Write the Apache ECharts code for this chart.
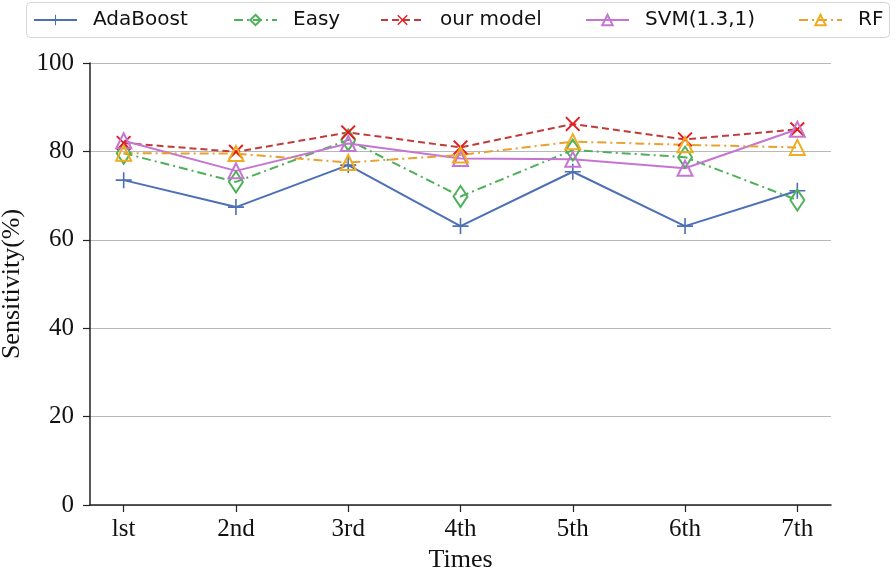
<!DOCTYPE html>
<html><head><meta charset="utf-8">
<script src="https://cdn.jsdelivr.net/npm/echarts@6/dist/echarts.min.js"></script>
<style>html,body{margin:0;padding:0;background:#fff}#c{width:896px;height:571px}</style>
</head><body><div id="c"></div>
<script>
const categories = ['lst', '2nd', '3rd', '4th', '5th', '6th', '7th'];
const yTicks = [0, 20, 40, 60, 80, 100];
const adaBoost = [73.5, 67.4, 76.9, 63.1, 75.4, 63.1, 71.1];
const easy = [79.6, 73.1, 82.6, 69.8, 80.3, 78.7, 69.0];
const ourModel = [81.9, 79.9, 84.3, 80.9, 86.2, 82.7, 85.0];
const svm = [82.4, 75.6, 81.8, 78.4, 78.2, 76.2, 85.0];
const rf = [79.6, 79.5, 77.5, 79.2, 82.2, 81.5, 80.9];

const PLUS = 'path://M-0.1,-1H0.1V-0.1H1V0.1H0.1V1H-0.1V0.1H-1V-0.1H-0.1Z';
const CROSS = 'path://M-1,-0.82L-0.82,-1L0,-0.18L0.82,-1L1,-0.82L0.18,0L1,0.82L0.82,1L0,0.18L-0.82,1L-1,0.82L-0.18,0Z';

function pts(arr){ return arr.map((v,i)=>[i,v]); }

const seriesDefs = [
  {name:'AdaBoost', data:adaBoost, color:'#4c6fb5', type:'solid', symbol:PLUS, size:16, filled:true, mcolor:'#4c6fb5'},
  {name:'Easy', data:easy, color:'#4fb05a', type:[9,4,2,4], symbol:'diamond', size:[14,21], filled:false, mcolor:'#4fb05a'},
  {name:'our model', data:ourModel, color:'#c23b3b', type:[7,4], symbol:CROSS, size:15, filled:true, mcolor:'#e8191c'},
  {name:'SVM(1.3,1)', data:svm, color:'#c575d2', type:'solid', symbol:'triangle', size:15, filled:false, mcolor:'#c575d2'},
  {name:'RF', data:rf, color:'#e8a12e', type:[9,4,2,4], symbol:'triangle', size:15, filled:false, mcolor:'#f0ab1e'}
];

const series = seriesDefs.map(d => ({
  name: d.name, type: 'line', data: pts(d.data),
  symbol: d.symbol, symbolSize: d.size, showAllSymbol: true,
  lineStyle: {color: d.color, width: 2, type: d.type},
  itemStyle: d.filled ? {color: d.mcolor, borderWidth: 0} : {color: 'rgba(255,255,255,0)', borderColor: d.mcolor, borderWidth: 2},
  color: d.color,
  emphasis: {disabled: true},
  animation: false
}));

const legendLeft = [33, 233, 380, 585, 798];
const legends = seriesDefs.map((d,i) => ({
  data: [d.name], left: legendLeft[i], top: 10, padding: 0, itemWidth: 43, itemHeight: 13,
  textStyle: {fontFamily: 'DejaVu Sans', fontSize: 20, color: '#111', padding: [0,0,0,11]},
  selectedMode: false
}));

const chart = echarts.init(document.getElementById('c'), null, {renderer: 'canvas'});
chart.setOption({
  animation: false,
  backgroundColor: '#fff',
  legend: legends,
  graphic: [{type:'rect', shape:{x:26.5, y:2.5, width:863, height:35, r:4}, style:{fill:'none', stroke:'#d4d4d4', lineWidth:1}, z: 0}],
  grid: {left: 90, right: 65, top: 63, bottom: 66, containLabel: false, outerBoundsMode: 'none'},
  xAxis: {
    type: 'value', min: -0.3, max: 6.3,
    name: 'Times', nameLocation: 'middle', nameGap: 38,
    nameTextStyle: {fontFamily: 'Liberation Serif', fontSize: 26, color: '#111'},
    axisLine: {show: true, onZero: false, lineStyle: {color: '#222', width: 1.5}},
    axisTick: {show: true, customValues: [0,1,2,3,4,5,6], length: 7, lineStyle: {color: '#222', width: 1.2}},
    axisLabel: {customValues: [0,1,2,3,4,5,6], formatter: v => categories[Math.round(v)], fontFamily: 'Liberation Serif', fontSize: 25, color: '#111', margin: 12},
    splitLine: {show: false}
  },
  yAxis: {
    type: 'value', min: 0, max: 100, interval: 20,
    name: 'Sensitivity(%)', nameLocation: 'middle', nameGap: 63,
    nameTextStyle: {fontFamily: 'Liberation Serif', fontSize: 26, color: '#111'},
    axisLine: {show: true, onZero: false, lineStyle: {color: '#222', width: 1.5}},
    axisTick: {show: true, length: 7, lineStyle: {color: '#222', width: 1.2}},
    axisLabel: {formatter: v => String(v), fontFamily: 'Liberation Serif', fontSize: 25, color: '#111', margin: 16},
    splitLine: {show: true, lineStyle: {color: '#b8b8b8', width: 1.2}}
  },
  series: series
});
</script></body></html>
